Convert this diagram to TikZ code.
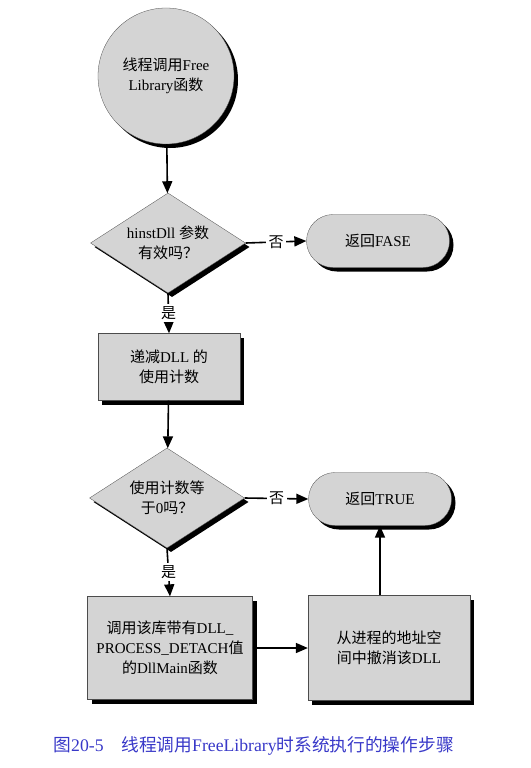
\documentclass[tikz,border=0pt]{standalone}
\usepackage{fontspec}
\setmainfont{Liberation Serif}
\newfontfamily\cjk{Noto Sans CJK SC}
\usetikzlibrary{arrows.meta,positioning,shapes.misc,shapes.geometric,shadows}
\definecolor{BoxGray}{HTML}{D4D4D4}
\definecolor{CapBlue}{HTML}{3838C8}
\newcommand{\zh}[1]{{\cjk #1}}
\tikzset{
  blk/.style={draw=black!70, line width=0.3pt, fill=BoxGray, align=center,
              font=\fontsize{15}{20}\selectfont, inner sep=0pt,
              drop shadow={shadow xshift=4pt, shadow yshift=-4pt, fill=black, opacity=1}},
  startbox/.style={blk, circle, minimum size=136pt},
  decbox/.style={blk, diamond, aspect=1.55, minimum width=155pt, minimum height=100pt},
  termbox/.style={blk, rounded rectangle, minimum width=143pt, minimum height=53pt},
  procbox/.style={blk, rectangle, minimum width=#1},
  flow/.style={line width=1.6pt, -{Triangle[length=12pt,width=10pt]}},
  lbl/.style={fill=white, inner sep=2.5pt, font=\fontsize{15}{17}\selectfont},
}
\begin{document}
\begin{tikzpicture}[x=1pt, y=-1pt]
\useasboundingbox (0,0) rectangle (530,768);
\node[startbox] (thread) at (166,76) {\zh{线程调用}Free\\Library\zh{函数}};
\node[decbox] (valid) at (168,243) {hinstDll \zh{参数}\\\zh{有效吗？}};
\node[termbox] (fase) at (378,241) {\zh{返回}FASE};
\node[procbox=142pt, minimum height=67pt] (decr) at (169,367) {\zh{递减}DLL \zh{的}\\\zh{使用计数}};
\node[decbox] (zero) at (167,498) {\zh{使用计数等}\\\zh{于}0\zh{吗？}};
\node[termbox] (true) at (380,499) {\zh{返回}TRUE};
\node[procbox=165pt, minimum height=103pt] (detach) at (170,648) {\zh{调用该库带有}DLL\_\\PROCESS\_DETACH\zh{值}\\\zh{的}DllMain\zh{函数}};
\node[procbox=162pt, minimum height=105pt] (unmap) at (389,648) {\zh{从进程的地址空}\\\zh{间中撤消该}DLL};
% connectors
\draw[flow] (thread) -- (valid);
\draw[flow] (valid.east) -- node[lbl] {\zh{否}} (fase.west);
\draw[flow] (valid.south) -- node[lbl] {\zh{是}} (decr.north);
\draw[flow] (decr) -- (zero);
\draw[flow] (zero.east) -- node[lbl] {\zh{否}} (true.west);
\draw[flow] (zero.south) -- node[lbl] {\zh{是}} (detach.north);
\draw[flow] (detach.east) -- (unmap.west);
\draw[flow] (unmap.north -| true.south) -- (true.south);
\node[anchor=west, text=CapBlue, font=\fontsize{17.7}{20}\selectfont] (caption) at (50,746)
  {\zh{图}20-5\quad\zh{线程调用}FreeLibrary\zh{时系统执行的操作步骤}};
\end{tikzpicture}
\end{document}
